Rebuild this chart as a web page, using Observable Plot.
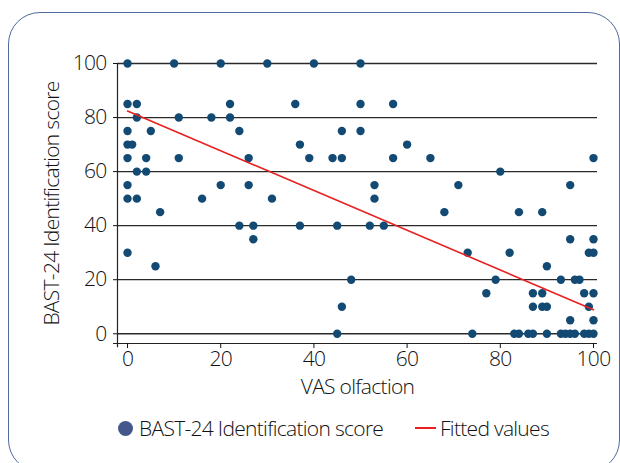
<!DOCTYPE html>
<html>
<head>
<meta charset="utf-8">
<script src="https://cdn.jsdelivr.net/npm/d3@7"></script>
<script src="https://cdn.jsdelivr.net/npm/@observablehq/plot@0.6"></script>
<style>
  html, body { margin: 0; padding: 0; background: #fff; }
  body { width: 620px; height: 463px; position: relative; overflow: hidden; font-family: "Open Sans", sans-serif; font-weight: 300; }
  #frame { position: absolute; left: 8px; top: 12px; width: 612px; height: 460px; border: 1.5px solid #4f6b9e; border-radius: 32px; box-sizing: border-box; }
  #chart { position: absolute; left: 0; top: 0; }
  #chart svg { font-weight: 300; letter-spacing: -0.7px; }
  #legend { position: absolute; left: 0; top: 414px; width: 620px; height: 28px; font-size: 21px; line-height: 28px; color: #111; letter-spacing: -0.7px; }
  #legend .dot { position: absolute; left: 118px; top: 7px; width: 15px; height: 15px; border-radius: 50%; background: #44578a; }
  #legend .t1 { position: absolute; left: 139px; top: 0; white-space: nowrap; }
  #legend .ln { position: absolute; left: 415px; top: 13px; width: 21px; height: 0; border-top: 2px solid #e8201f; }
  #legend .t2 { position: absolute; left: 440px; top: 0; white-space: nowrap; }
</style>
</head>
<body>
<div id="frame"></div>
<div id="chart"></div>
<div id="legend">
  <div class="dot"></div><div class="t1" id="lg1"></div>
  <div class="ln"></div><div class="t2" id="lg2"></div>
</div>
<script>
// VAS olfaction (x) and BAST-24 Identification score (y)
const vas = [
  0,10,20,30,40,50,
  0,2,22,36,50,57,
  2,11,18,22,
  0,5,24,46,50,
  0,1,37,60,
  0,4,11,26,39,44,46,57,65,100,
  2,4,80,
  0,20,26,53,71,95,
  0,2,16,31,53,
  7,68,84,89,
  24,27,37,45,52,55,
  27,95,100,
  0,73,82,99,100,
  6,90,
  48,79,93,96,97,
  77,87,89,98,100,
  46,87,89,90,99,
  95,100,
  45,74,83,84,86,87,90,93,94,95,96,98,99,100
];
const bast = [
  100,100,100,100,100,100,
  85,85,85,85,85,85,
  80,80,80,80,
  75,75,75,75,75,
  70,70,70,70,
  65,65,65,65,65,65,65,65,65,65,
  60,60,60,
  55,55,55,55,55,55,
  50,50,50,50,50,
  45,45,45,45,
  40,40,40,40,40,40,
  35,35,35,
  30,30,30,30,30,
  25,25,
  20,20,20,20,20,
  15,15,15,15,15,
  10,10,10,10,10,
  5,5,
  0,0,0,0,0,0,0,0,0,0,0,0,0,0
];
// Fitted values (linear fit) at the ends of the x range
const fitX = [0, 100];
const fitY = [82.4, 8.9];

const xTicks = [0, 20, 40, 60, 80, 100];
const yTicks = [0, 20, 40, 60, 80, 100];
const xLabel = "VAS olfaction";
const yLabel = "BAST-24 Identification score";
const seriesLabel = "BAST-24 Identification score";
const fitLabel = "Fitted values";

const points = vas.map((v, i) => ({x: v, y: bast[i]}));
const fit = fitX.map((v, i) => ({x: v, y: fitY[i]}));

const xDom = [-2.15, 100.86];
const yDom = [-3.6, 100];
const font = "Open Sans, sans-serif";

const chart = Plot.plot({
  width: 620,
  height: 400,
  marginLeft: 117,
  marginRight: 23,
  marginTop: 63,
  marginBottom: 57,
  style: {fontFamily: font, fontSize: "21px", color: "#111", background: "transparent"},
  x: {domain: xDom},
  y: {domain: yDom},
  marks: [
    Plot.ruleY(yTicks, {x1: xDom[0], x2: xDom[1], stroke: "#2a2a2a", strokeWidth: 1.3}),
    Plot.ruleY([yDom[0]], {x1: -3.0, x2: xDom[1], stroke: "#222", strokeWidth: 1.2}),
    Plot.ruleX([xDom[0]], {y1: -5.2, y2: 100, stroke: "#222", strokeWidth: 1.2}),
    Plot.axisY(yTicks, {tickSize: 4, tickPadding: 7, fontSize: 21, label: yLabel, labelAnchor: "center", labelOffset: 73, labelArrow: "none"}),
    Plot.axisX(xTicks, {tickSize: 5, tickPadding: 3, fontSize: 21, label: xLabel, labelAnchor: "center", labelOffset: 50, labelArrow: "none"}),
    Plot.dot(points, {x: "x", y: "y", r: 4.2, fill: "#134a74", stroke: "none"}),
    Plot.line(fit, {x: "x", y: "y", stroke: "#e8201f", strokeWidth: 1.6})
  ]
});
document.getElementById("chart").appendChild(chart);
document.getElementById("lg1").textContent = seriesLabel;
document.getElementById("lg2").textContent = fitLabel;
</script>
</body>
</html>
